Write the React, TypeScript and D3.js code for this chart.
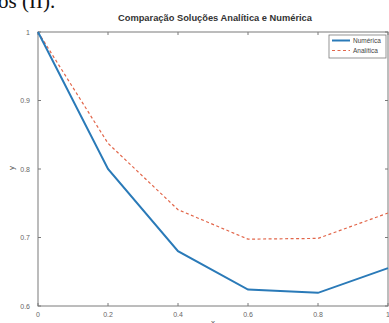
import * as d3 from 'd3';
import { useEffect, useRef } from 'react';

// step points (h = 0.2)
const xs = [0, 0.2, 0.4, 0.6, 0.8, 1.0];
const numerica = [1, 0.8, 0.68, 0.624, 0.6192, 0.65536];
const analitica = [1, 0.8375, 0.7406, 0.6976, 0.6987, 0.7358];
const xTicks = [0, 0.2, 0.4, 0.6, 0.8, 1];
const yTicks = [0.6, 0.7, 0.8, 0.9, 1];
const legendNames = ['Numérica', 'Analítica'];

const W = 389;
const H = 323;

function App() {
  const ref = useRef<SVGSVGElement>(null);

  useEffect(() => {
    const svg = d3.select(ref.current);
    svg.selectAll('*').remove();

    const left = 38, right = 388, top = 32, bottom = 306;
    const x = d3.scaleLinear().domain([0, 1]).range([left, right]);
    const y = d3.scaleLinear().domain([0.6, 1]).range([bottom, top]);
    const font = 'Liberation Sans, Arial, sans-serif';

    svg.append('rect').attr('width', W).attr('height', H).attr('fill', '#fff');

    // cut-off text from the page above the figure
    svg.append('text')
      .attr('x', -2).attr('y', 8)
      .attr('font-family', 'Liberation Serif, serif')
      .attr('font-size', 21)
      .attr('fill', '#111')
      .text('os (II).');

    // title
    svg.append('text')
      .attr('x', 215).attr('y', 21)
      .attr('text-anchor', 'middle')
      .attr('font-family', font)
      .attr('font-size', 9.3)
      .attr('font-weight', 'bold')
      .attr('fill', '#333')
      .text('Comparação Soluções Analítica e Numérica');

    const axisColor = '#7a7a7a';
    const g = svg.append('g');

    // frame
    g.append('rect')
      .attr('x', left).attr('y', top)
      .attr('width', right - left).attr('height', bottom - top)
      .attr('fill', 'none').attr('stroke', axisColor).attr('stroke-width', 1);

    // x ticks (bottom + top, inward)
    xTicks.forEach((t) => {
      g.append('line').attr('x1', x(t)).attr('x2', x(t)).attr('y1', bottom).attr('y2', bottom - 3)
        .attr('stroke', axisColor);
      g.append('line').attr('x1', x(t)).attr('x2', x(t)).attr('y1', top).attr('y2', top + 3)
        .attr('stroke', axisColor);
      g.append('text')
        .attr('x', x(t)).attr('y', bottom + 11)
        .attr('text-anchor', 'middle')
        .attr('font-family', font)
        .attr('font-size', 7)
        .attr('fill', '#666')
        .text(d3.format('~g')(t));
    });

    // y ticks
    yTicks.forEach((t) => {
      g.append('line').attr('x1', left).attr('x2', left + 3).attr('y1', y(t)).attr('y2', y(t))
        .attr('stroke', axisColor);
      g.append('line').attr('x1', right).attr('x2', right - 3).attr('y1', y(t)).attr('y2', y(t))
        .attr('stroke', axisColor);
      g.append('text')
        .attr('x', left - 8).attr('y', y(t) + 2.5)
        .attr('text-anchor', 'end')
        .attr('font-family', font)
        .attr('font-size', 7)
        .attr('fill', '#666')
        .text(d3.format('~g')(t));
    });

    // axis labels
    svg.append('text')
      .attr('transform', `translate(14,${(top + bottom) / 2 - 1}) rotate(-90)`)
      .attr('text-anchor', 'middle')
      .attr('font-family', font)
      .attr('font-size', 8)
      .attr('fill', '#555')
      .text('y');
    svg.append('text')
      .attr('x', 213).attr('y', 325)
      .attr('text-anchor', 'middle')
      .attr('font-family', font)
      .attr('font-size', 8)
      .attr('fill', '#555')
      .text('x');

    const line = d3.line<number>().x((_, i) => x(xs[i])).y((d) => y(d));

    g.append('path')
      .attr('d', line(analitica))
      .attr('fill', 'none')
      .attr('stroke', '#e2664a')
      .attr('stroke-width', 1.2)
      .attr('stroke-dasharray', '3,2.5');

    g.append('path')
      .attr('d', line(numerica))
      .attr('fill', 'none')
      .attr('stroke', '#2a7ab8')
      .attr('stroke-width', 2);

    // legend
    const lg = svg.append('g').attr('transform', 'translate(329,35)');
    lg.append('rect').attr('width', 57).attr('height', 23)
      .attr('fill', '#fff').attr('stroke', axisColor).attr('stroke-width', 0.8);
    legendNames.forEach((name, i) => {
      const yy = 5.5 + i * 10;
      lg.append('line').attr('x1', 3).attr('x2', 21).attr('y1', yy).attr('y2', yy)
        .attr('stroke', i === 0 ? '#2a7ab8' : '#e2664a')
        .attr('stroke-width', i === 0 ? 2 : 1)
        .attr('stroke-dasharray', i === 0 ? null : '3,2.5');
      lg.append('text')
        .attr('x', 24).attr('y', yy + 2.3)
        .attr('font-family', font)
        .attr('font-size', 6.5)
        .attr('fill', '#444')
        .text(name);
    });
  }, []);

  return (
    <svg
      ref={ref}
      width={W}
      height={H}
      style={{ position: 'absolute', left: 0, top: 0, display: 'block' }}
    />
  );
}

export default App;
